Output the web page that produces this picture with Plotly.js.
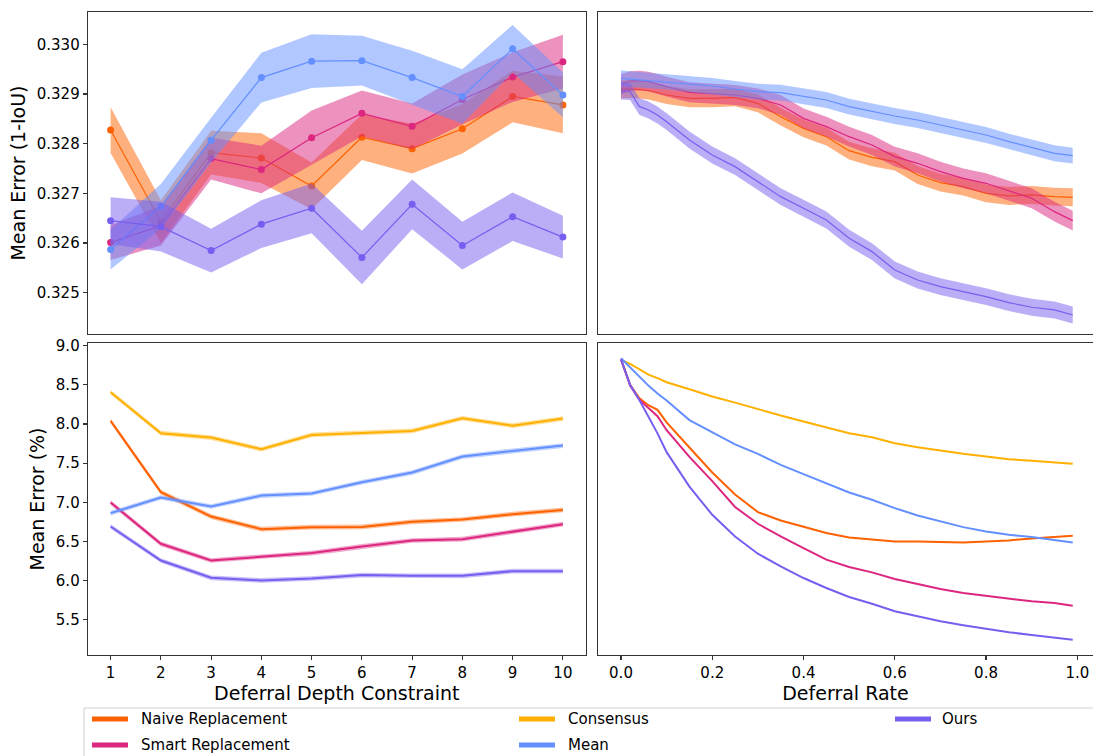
<!DOCTYPE html>
<html>
<head>
<meta charset="utf-8">
<script src="https://cdn.plot.ly/plotly-3.0.1.min.js"></script>
<style>html,body{margin:0;padding:0;background:#fff;}#chart{width:1093px;height:756px;}</style>
</head>
<body>
<div id="chart"></div>
<script>
// ---------- data ----------
const seriesNames = ["Naive Replacement", "Smart Replacement", "Consensus", "Mean", "Ours"];
const seriesColors = ["#fe6100", "#dc267f", "#ffb000", "#648fff", "#785ef0"];

const depth = [1, 2, 3, 4, 5, 6, 7, 8, 9, 10];
const rate = [0, 0.02, 0.04, 0.06, 0.08, 0.1, 0.15, 0.2, 0.25, 0.3, 0.35, 0.4, 0.45, 0.5, 0.55, 0.6, 0.65, 0.7, 0.75, 0.8, 0.85, 0.9, 0.95, 0.99];

// Top-left: IoU error vs depth constraint (mean and band half-width)
const iouDepthNaive = [0.328275, 0.32643, 0.32782, 0.32771, 0.32715, 0.32813, 0.32790, 0.32830, 0.32895, 0.32878];
const iouDepthNaiveErr = [0.00046, 0.00043, 0.00044, 0.00050, 0.00047, 0.00046, 0.00050, 0.00050, 0.00052, 0.00057];
const iouDepthSmart = [0.32601, 0.32635, 0.32770, 0.32748, 0.32812, 0.32861, 0.32835, 0.32889, 0.32934, 0.32965];
const iouDepthSmartErr = [0.00035, 0.00040, 0.00042, 0.00048, 0.00055, 0.00046, 0.00046, 0.00050, 0.00050, 0.00054];
const iouDepthMean = [0.32587, 0.32674, 0.32807, 0.32933, 0.32966, 0.32967, 0.32933, 0.32895, 0.32991, 0.32898];
const iouDepthMeanErr = [0.00040, 0.00045, 0.00045, 0.00050, 0.00054, 0.00050, 0.00054, 0.00055, 0.00048, 0.00045];
const iouDepthOurs = [0.32645, 0.32633, 0.32585, 0.32638, 0.32670, 0.32571, 0.32678, 0.32595, 0.32653, 0.32612];
const iouDepthOursErr = [0.00047, 0.00050, 0.00044, 0.00048, 0.00050, 0.00054, 0.00050, 0.00048, 0.00049, 0.00043];

// Top-right: IoU error vs deferral rate
const iouRateNaive = [0.329094, 0.32910, 0.32909, 0.32907, 0.32903, 0.32898, 0.328913, 0.328913, 0.328933, 0.328812, 0.328544, 0.328309, 0.328141, 0.32786, 0.327726, 0.327638, 0.32737, 0.327216, 0.327135, 0.327001, 0.326948, 0.326968, 0.326934, 0.326921];
const iouRateSmart = [0.329201, 0.32926, 0.32927, 0.32925, 0.32920, 0.329147, 0.329034, 0.329013, 0.32898, 0.328913, 0.328779, 0.32851, 0.328343, 0.328141, 0.327974, 0.327739, 0.327605, 0.327437, 0.327303, 0.327203, 0.327055, 0.326901, 0.326632, 0.326451];
const iouRateMean = [0.329315, 0.32930, 0.32929, 0.329275, 0.32926, 0.329248, 0.329201, 0.329161, 0.329101, 0.329047, 0.329027, 0.32896, 0.328879, 0.328745, 0.328644, 0.328557, 0.328477, 0.328376, 0.328276, 0.328175, 0.328041, 0.327927, 0.327806, 0.327759];
const iouRateOurs = [0.32906, 0.32905, 0.32875, 0.328678, 0.328577, 0.328443, 0.328074, 0.327773, 0.327538, 0.327236, 0.326934, 0.3267, 0.326465, 0.326096, 0.325828, 0.325459, 0.325257, 0.325123, 0.325023, 0.324922, 0.324801, 0.324708, 0.324654, 0.324553];
const iouRateErr = [0.00018, 0.00020, 0.00016, 0.00017]; // Naive, Smart, Mean, Ours

// Bottom-left: % error vs depth constraint
const pctDepthNaive = [8.039, 7.129, 6.818, 6.657, 6.682, 6.686, 6.750, 6.780, 6.848, 6.903];
const pctDepthSmart = [6.997, 6.470, 6.257, 6.308, 6.351, 6.436, 6.512, 6.529, 6.627, 6.720];
const pctDepthConsensus = [8.405, 7.882, 7.826, 7.677, 7.860, 7.890, 7.911, 8.073, 7.979, 8.069];
const pctDepthMean = [6.861, 7.061, 6.946, 7.086, 7.112, 7.256, 7.380, 7.584, 7.656, 7.724];
const pctDepthOurs = [6.691, 6.257, 6.036, 6.002, 6.027, 6.070, 6.061, 6.061, 6.121, 6.121];
const pctDepthErr = 0.03;

// Bottom-right: % error vs deferral rate
const pctRateNaive = [8.826, 8.50, 8.33, 8.24, 8.18, 8.02, 7.70, 7.38, 7.10, 6.875, 6.768, 6.692, 6.607, 6.551, 6.53, 6.5, 6.5, 6.492, 6.488, 6.5, 6.513, 6.539, 6.556, 6.573];
const pctRateSmart = [8.826, 8.49, 8.31, 8.20, 8.10, 7.92, 7.58, 7.27, 6.94, 6.726, 6.564, 6.415, 6.267, 6.173, 6.105, 6.02, 5.956, 5.892, 5.841, 5.807, 5.778, 5.735, 5.714, 5.68];
const pctRateConsensus = [8.818, 8.767, 8.70, 8.63, 8.585, 8.533, 8.443, 8.35, 8.273, 8.188, 8.108, 8.031, 7.959, 7.882, 7.831, 7.755, 7.704, 7.657, 7.619, 7.585, 7.551, 7.529, 7.512, 7.491];
const pctRateMean = [8.839, 8.724, 8.605, 8.49, 8.39, 8.30, 8.05, 7.89, 7.74, 7.619, 7.478, 7.36, 7.244, 7.125, 7.032, 6.926, 6.832, 6.755, 6.683, 6.628, 6.585, 6.556, 6.522, 6.488];
const pctRateOurs = [8.826, 8.50, 8.31, 8.10, 7.88, 7.64, 7.20, 6.84, 6.564, 6.343, 6.182, 6.033, 5.905, 5.79, 5.705, 5.608, 5.544, 5.48, 5.429, 5.382, 5.34, 5.306, 5.276, 5.246];

// ---------- helpers ----------
function rgba(hex, a) {
  const r = parseInt(hex.slice(1, 3), 16), g = parseInt(hex.slice(3, 5), 16), b = parseInt(hex.slice(5, 7), 16);
  return `rgba(${r},${g},${b},${a})`;
}
function band(x, y, err, color, alpha, xa, ya) {
  const e = Array.isArray(err) ? err : y.map(() => err);
  const up = y.map((v, i) => v + e[i]);
  const lo = y.map((v, i) => v - e[i]);
  return {
    x: x.concat(x.slice().reverse()),
    y: up.concat(lo.slice().reverse()),
    fill: 'toself', fillcolor: rgba(color, alpha), line: {width: 0},
    mode: 'lines', hoverinfo: 'skip', showlegend: false, xaxis: xa, yaxis: ya, type: 'scatter'
  };
}
function line(x, y, color, width, xa, ya, markers, name) {
  return {
    x: x, y: y, mode: markers ? 'lines+markers' : 'lines', name: name,
    line: {color: color, width: width}, marker: {color: color, size: 7},
    showlegend: false, xaxis: xa, yaxis: ya, type: 'scatter'
  };
}

const C = {};
seriesNames.forEach((n, i) => C[n] = seriesColors[i]);

const traces = [];
// Top-left
[[iouDepthNaive, iouDepthNaiveErr, "Naive Replacement"],
 [iouDepthSmart, iouDepthSmartErr, "Smart Replacement"],
 [iouDepthMean, iouDepthMeanErr, "Mean"],
 [iouDepthOurs, iouDepthOursErr, "Ours"]].forEach(([y, e, n]) => {
  traces.push(band(depth, y, e, C[n], 0.5, 'x', 'y'));
  traces.push(line(depth, y, C[n], 1.2, 'x', 'y', true, n));
});
// Top-right
[[iouRateNaive, "Naive Replacement"], [iouRateSmart, "Smart Replacement"],
 [iouRateMean, "Mean"], [iouRateOurs, "Ours"]].forEach(([y, n], i) => {
  traces.push(band(rate, y, iouRateErr[i], C[n], 0.5, 'x2', 'y2'));
  traces.push(line(rate, y, C[n], 1.2, 'x2', 'y2', false, n));
});
// Bottom-left
[[pctDepthNaive, "Naive Replacement"], [pctDepthSmart, "Smart Replacement"],
 [pctDepthConsensus, "Consensus"], [pctDepthMean, "Mean"], [pctDepthOurs, "Ours"]].forEach(([y, n]) => {
  traces.push(band(depth, y, pctDepthErr, C[n], 0.4, 'x3', 'y3'));
  traces.push(line(depth, y, C[n], 2, 'x3', 'y3', false, n));
});
// Bottom-right
[[pctRateNaive, "Naive Replacement"], [pctRateSmart, "Smart Replacement"],
 [pctRateConsensus, "Consensus"], [pctRateMean, "Mean"], [pctRateOurs, "Ours"]].forEach(([y, n]) => {
  traces.push(line(rate, y, C[n], 2, 'x4', 'y4', false, n));
});

// ---------- layout ----------
const W = 1093, H = 756;
const px = v => v / W;
const py = v => 1 - v / H;
const FONT = 'DejaVu Sans, sans-serif';
const frame = {showline: true, mirror: true, linecolor: '#333', linewidth: 1.3, showgrid: false, zeroline: false,
  tickfont: {family: FONT, size: 15, color: '#000'}, tickcolor: '#333', ticklen: 4, tickwidth: 1.2};

const xL = [px(88), px(585.5)], xR = [px(598), 1];
const yT = [py(334), py(12)], yB = [py(655), py(343)];
const depthRange = [0.55, 10.45], rateRange = [-0.0504, 1.0344];
const iouRange = [0.32417, 0.33065], pctRange = [5.05, 9.034];
const titleFont = {family: FONT, size: 19, color: '#000'};

const layout = {
  width: W, height: H, margin: {l: 0, r: 0, t: 0, b: 0},
  paper_bgcolor: '#fff', plot_bgcolor: '#fff', showlegend: false,
  font: {family: FONT, color: '#000'},
  xaxis: Object.assign({}, frame, {domain: xL, range: depthRange, anchor: 'y', showticklabels: false, ticks: ''}),
  yaxis: Object.assign({}, frame, {domain: yT, range: iouRange, anchor: 'x', dtick: 0.001, tick0: 0.325, tickformat: '.3f', ticks: 'outside',
    title: {text: 'Mean Error (1-IoU)', font: titleFont, standoff: 6}}),
  xaxis2: Object.assign({}, frame, {domain: xR, range: rateRange, anchor: 'y2', showticklabels: false, ticks: ''}),
  yaxis2: Object.assign({}, frame, {domain: yT, range: iouRange, anchor: 'x2', showticklabels: false, ticks: ''}),
  xaxis3: Object.assign({}, frame, {domain: xL, range: depthRange, anchor: 'y3', dtick: 1, tick0: 1, ticks: 'outside',
    title: {text: 'Deferral Depth Constraint', font: titleFont, standoff: 3}}),
  yaxis3: Object.assign({}, frame, {domain: yB, range: pctRange, anchor: 'x3', dtick: 0.5, tick0: 5.5, tickformat: '.1f', ticks: 'outside',
    title: {text: 'Mean Error (%)', font: titleFont, standoff: 6}}),
  xaxis4: Object.assign({}, frame, {domain: xR, range: rateRange, anchor: 'y4', dtick: 0.2, tick0: 0, tickformat: '.1f', ticks: 'outside',
    title: {text: 'Deferral Rate', font: titleFont, standoff: 3}}),
  yaxis4: Object.assign({}, frame, {domain: yB, range: pctRange, anchor: 'x4', showticklabels: false, ticks: ''}),
  shapes: [], annotations: []
};

// manual legend (column-major, 3 columns x 2 rows)
layout.shapes.push({type: 'rect', xref: 'paper', yref: 'paper', x0: px(84), x1: px(1100), y0: py(766), y1: py(708),
  line: {color: '#d0d0d0', width: 1}, fillcolor: 'rgba(255,255,255,0.8)', layer: 'above'});
const colSwatch = [92, 519, 895], colText = [139, 566, 940], rowY = [719, 745];
seriesNames.forEach((n, i) => {
  const c = Math.floor(i / 2), r = i % 2;
  layout.shapes.push({type: 'line', xref: 'paper', yref: 'paper', x0: px(colSwatch[c]), x1: px(colSwatch[c] + 36),
    y0: py(rowY[r]), y1: py(rowY[r]), line: {color: seriesColors[i], width: 5}, layer: 'above'});
  layout.annotations.push({xref: 'paper', yref: 'paper', x: px(colText[c]), y: py(rowY[r]), xanchor: 'left', yanchor: 'middle',
    text: n, showarrow: false, font: {family: FONT, size: 15, color: '#000'}});
});

Plotly.newPlot('chart', traces, layout, {displayModeBar: false, staticPlot: true});
</script>
</body>
</html>
